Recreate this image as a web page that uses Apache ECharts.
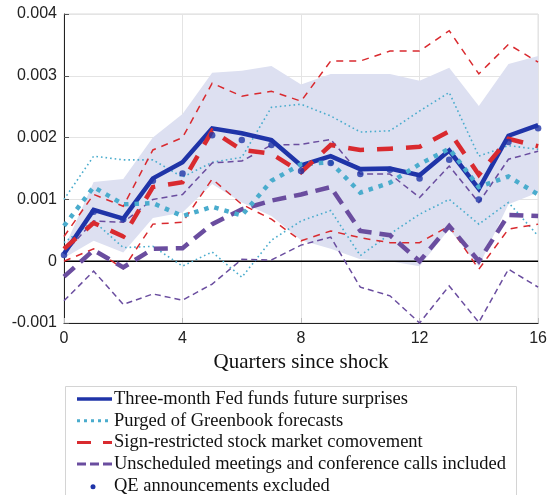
<!DOCTYPE html>
<html>
<head>
<meta charset="utf-8">
<script src="https://cdn.jsdelivr.net/npm/echarts@6/dist/echarts.min.js"></script>
<style>
  html, body { margin: 0; padding: 0; background: #fff; }
  #chart { width: 550px; height: 495px; }
</style>
</head>
<body>
<div id="chart"></div>
<script>
// Quarters since the monetary policy shock
const quarters = [0, 1, 2, 3, 4, 5, 6, 7, 8, 9, 10, 11, 12, 13, 14, 15, 16];

// Baseline: three-month Fed funds future surprises, with its confidence band
const baseline  = [0.00012, 0.00083, 0.00069, 0.00134, 0.0016, 0.00215, 0.00207, 0.00196, 0.00155, 0.0017, 0.00149, 0.0015, 0.00139, 0.00179, 0.00117, 0.00203, 0.0022];
const baseLow   = [0.00005, 0.00033, 0.00014, 0.0007, 0.00079, 0.00125, 0.00095, 0.00073, 0.00034, 0.0002, 0.00003, 0.0, -0.00008, 0.00052, -0.00008, 0.00092, 0.00111];
const baseHigh  = [0.0002, 0.00128, 0.00133, 0.002, 0.00238, 0.00305, 0.00308, 0.00316, 0.00286, 0.00303, 0.00303, 0.00303, 0.00292, 0.00313, 0.00251, 0.00319, 0.00332];

// Purged of Greenbook forecasts
const purged     = [0.00057, 0.0012, 0.00092, 0.00094, 0.00073, 0.00088, 0.00074, 0.0013, 0.00157, 0.0016, 0.00111, 0.00127, 0.00157, 0.00182, 0.0012, 0.00137, 0.00108];
const purgedHigh = [0.001, 0.0017, 0.00164, 0.00164, 0.00136, 0.0016, 0.00168, 0.00249, 0.00254, 0.00235, 0.00209, 0.00211, 0.00243, 0.00273, 0.0017, 0.00187, 0.00181];
const purgedLow  = [0.0003, 0.00065, 0.00022, 0.00024, -0.00008, 0.00015, -0.00026, 0.00034, 0.00065, 0.00082, 0.00009, 0.00044, 0.00076, 0.001, 0.0006, 0.00095, 0.00041];

// Sign-restricted stock market comovement
const signRes     = [0.0002, 0.00062, 0.0004, 0.0012, 0.00128, 0.00211, 0.0018, 0.00174, 0.00144, 0.00188, 0.0018, 0.00182, 0.00185, 0.0021, 0.0014, 0.00198, 0.00186];
const signResHigh = [0.0004, 0.00108, 0.00089, 0.0018, 0.002, 0.00288, 0.00267, 0.00275, 0.00259, 0.00324, 0.00324, 0.0034, 0.0034, 0.00373, 0.00303, 0.00351, 0.00322];
const signResLow  = [0.0, 0.0002, -0.00012, 0.0006, 0.00063, 0.00133, 0.00092, 0.00068, 0.00033, 0.00049, 0.00038, 0.0003, 0.0003, 0.00057, -0.00013, 0.00052, 0.0006];

// Unscheduled meetings and conference calls included
const unsched     = [-0.00025, 0.00018, -0.0001, 0.0002, 0.00021, 0.0006, 0.00084, 0.00098, 0.00108, 0.0012, 0.00049, 0.00042, 0.0, 0.00057, 0.0, 0.00075, 0.00073];
const unschedHigh = [0.00012, 0.00065, 0.00063, 0.001, 0.00108, 0.00159, 0.00162, 0.00188, 0.00189, 0.00197, 0.00141, 0.00141, 0.00103, 0.00154, 0.00095, 0.00165, 0.00178];
const unschedLow  = [-0.00064, -0.00016, -0.0007, -0.00053, -0.00063, -0.00037, 0.00003, 0.00002, 0.00026, 0.00039, -0.00042, -0.00056, -0.001, -0.0004, -0.00099, -0.00013, -0.00042];

// QE announcements excluded
const qeExcluded = [0.0001, 0.0008, 0.00068, 0.0013, 0.00142, 0.00204, 0.00196, 0.00188, 0.00146, 0.00159, 0.00141, 0.00148, 0.00134, 0.00164, 0.001, 0.00193, 0.00215];

// Axis ticks
const xTicks = [0, 4, 8, 12, 16];
const yTicks = [-0.001, 0, 0.001, 0.002, 0.003, 0.004];

const legendLabels = [
  'Three-month Fed funds future surprises',
  'Purged of Greenbook forecasts',
  'Sign-restricted stock market comovement',
  'Unscheduled meetings and conference calls included',
  'QE announcements excluded'
];

const C_BLUE = '#1f34a8';
const C_CYAN = '#4aaccd';
const C_RED = '#d92a2f';
const C_PURPLE = '#6a4d9f';
const C_BAND = '#dde0f1';

const pairs = arr => quarters.map((q, i) => [q, arr[i]]);

function lineSeries(name, arr, color, width, dash, z) {
  return {
    name, type: 'line', data: pairs(arr), showSymbol: false, symbol: 'none',
    lineStyle: { color, width, type: dash, cap: 'butt', join: 'miter' },
    z, silent: true, animation: false
  };
}

// Confidence band drawn as one polygon: upper edge left-to-right, lower edge back
function renderBand(params, api) {
  if (params.dataIndex !== 0) return null;
  const pts = [];
  quarters.forEach((q, i) => pts.push(api.coord([q, baseHigh[i]])));
  for (let i = quarters.length - 1; i >= 0; i--) pts.push(api.coord([quarters[i], baseLow[i]]));
  return {
    type: 'polygon',
    shape: { points: pts },
    style: { fill: C_BAND, stroke: 'none' }
  };
}

const chart = echarts.init(document.getElementById('chart'), null, { renderer: 'canvas' });

const serifFont = '"Liberation Serif", "DejaVu Serif", serif';
const sansFont = '"Liberation Sans", Arial, sans-serif';

const legendX = 77, legendY0 = 399, legendDy = 21.7;
const legendGraphics = [
  { type: 'rect', shape: { x: 65.5, y: 386.5, width: 451, height: 120 },
    style: { fill: '#fff', stroke: '#d4d4d4', lineWidth: 1 }, z: 100 },
  { type: 'line', shape: { x1: legendX, y1: legendY0, x2: legendX + 35, y2: legendY0 },
    style: { stroke: C_BLUE, lineWidth: 3.5 }, z: 101 },
  { type: 'line', shape: { x1: legendX, y1: legendY0 + legendDy, x2: legendX + 35, y2: legendY0 + legendDy },
    style: { stroke: C_CYAN, lineWidth: 3, lineDash: [3, 4] }, z: 101 },
  { type: 'line', shape: { x1: legendX, y1: legendY0 + 2 * legendDy, x2: legendX + 35, y2: legendY0 + 2 * legendDy },
    style: { stroke: C_RED, lineWidth: 3, lineDash: [14, 12] }, z: 101 },
  { type: 'line', shape: { x1: legendX, y1: legendY0 + 3 * legendDy, x2: legendX + 35, y2: legendY0 + 3 * legendDy },
    style: { stroke: C_PURPLE, lineWidth: 3, lineDash: [9, 4] }, z: 101 },
  { type: 'circle', shape: { cx: legendX + 16, cy: legendY0 + 4 * legendDy + 1, r: 2.5 },
    style: { fill: C_BLUE }, z: 101 }
];
legendLabels.forEach((t, i) => {
  legendGraphics.push({
    type: 'text', x: legendX + 37, y: legendY0 + i * legendDy, z: 101,
    style: { text: t, font: '18.5px ' + serifFont, fill: '#111', verticalAlign: 'middle' }
  });
});

const option = {
  backgroundColor: '#fff',
  animation: false,
  grid: { left: 64, right: 10, top: 14, bottom: 172, show: true, borderColor: '#dadada', borderWidth: 1, backgroundColor: 'transparent' },
  xAxis: {
    type: 'value', min: xTicks[0], max: xTicks[xTicks.length - 1], interval: 4,
    name: 'Quarters since shock', nameLocation: 'middle', nameGap: 27,
    nameTextStyle: { fontFamily: serifFont, fontSize: 21, color: '#111' },
    axisLine: { show: true, onZero: false, lineStyle: { color: '#222', width: 1 } },
    axisTick: { show: true, inside: true, length: 5, lineStyle: { color: '#bbb' } },
    axisLabel: { fontFamily: sansFont, fontSize: 16, color: '#222', margin: 8 },
    splitLine: { show: true, lineStyle: { color: '#e4e4e4', width: 1 } }
  },
  yAxis: {
    type: 'value', min: yTicks[0], max: yTicks[yTicks.length - 1], interval: 0.001,
    axisLine: { show: true, onZero: false, lineStyle: { color: '#222', width: 1 } },
    axisTick: { show: true, inside: true, length: 5, lineStyle: { color: '#555' } },
    axisLabel: {
      fontFamily: sansFont, fontSize: 16, color: '#222', margin: 7,
      formatter: v => (Math.abs(v) < 1e-12 ? '0' : v.toFixed(3))
    },
    splitLine: { show: true, lineStyle: { color: '#e4e4e4', width: 1 } }
  },
  series: [
    {
      name: 'band', type: 'custom', data: pairs(baseHigh), renderItem: renderBand,
      silent: true, z: 1, clip: true
    },
    {
      name: 'zero', type: 'line', data: pairs(quarters.map(() => 0)), symbol: 'none',
      lineStyle: { color: '#000', width: 1.6 }, silent: true, z: 2
    },
    lineSeries('purgedHigh', purgedHigh, C_CYAN, 1.6, [1.6, 3], 3),
    lineSeries('purgedLow', purgedLow, C_CYAN, 1.6, [1.6, 3], 3),
    lineSeries('signResHigh', signResHigh, C_RED, 1.5, [7, 6], 3),
    lineSeries('signResLow', signResLow, C_RED, 1.5, [7, 6], 3),
    lineSeries('unschedHigh', unschedHigh, C_PURPLE, 1.5, [6, 4], 3),
    lineSeries('unschedLow', unschedLow, C_PURPLE, 1.5, [6, 4], 3),
    lineSeries(legendLabels[0], baseline, C_BLUE, 4.5, 'solid', 5),
    lineSeries(legendLabels[3], unsched, C_PURPLE, 4.5, [14, 8], 6),
    lineSeries(legendLabels[1], purged, C_CYAN, 4.5, [4.5, 6], 6),
    lineSeries(legendLabels[2], signRes, C_RED, 4.5, [16, 13], 7),
    {
      name: legendLabels[4], type: 'scatter', data: pairs(qeExcluded),
      symbol: 'circle', symbolSize: 6.5, itemStyle: { color: C_BLUE },
      z: 8, silent: true
    }
  ],
  graphic: legendGraphics
};

chart.setOption(option);
</script>
</body>
</html>
